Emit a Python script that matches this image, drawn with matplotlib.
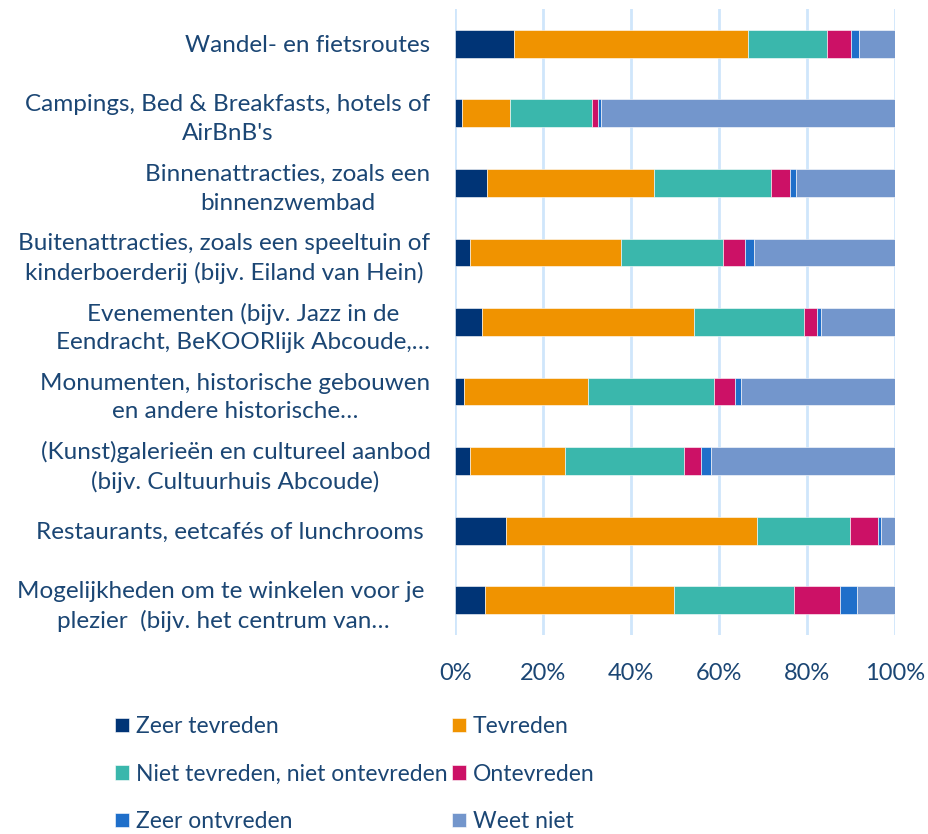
import matplotlib.pyplot as plt
import numpy as np
from matplotlib.ticker import PercentFormatter

categories = [
    "Wandel- en fietsroutes",
    "Campings, Bed & Breakfasts, hotels of\nAirBnB's",
    "Binnenattracties, zoals een\nbinnenzwembad",
    "Buitenattracties, zoals een speeltuin of\nkinderboerderij (bijv. Eiland van Hein)",
    "Evenementen (bijv. Jazz in de\nEendracht, BeKOORlijk Abcoude,…",
    "Monumenten, historische gebouwen\nen andere historische…",
    "(Kunst)galerieën en cultureel aanbod\n(bijv. Cultuurhuis Abcoude)",
    "Restaurants, eetcafés of lunchrooms ",
    "Mogelijkheden om te winkelen voor je \nplezier  (bijv. het centrum van…",
]

series_names = [
    "Zeer tevreden",
    "Tevreden",
    "Niet tevreden, niet ontevreden",
    "Ontevreden",
    "Zeer ontvreden",
    "Weet niet",
]

zeer_tevreden = [13.3, 1.4, 7.1, 3.4, 6.1, 1.9, 3.4, 11.5, 6.7]
tevreden = [53.3, 11.0, 38.0, 34.3, 48.2, 28.3, 21.6, 57.1, 43.1]
neutraal = [18.0, 18.6, 26.7, 23.1, 25.0, 28.7, 26.9, 21.1, 27.2]
ontevreden = [5.3, 1.4, 4.3, 5.1, 3.0, 4.6, 4.0, 6.5, 10.5]
zeer_ontevreden = [2.0, 0.7, 1.3, 2.0, 0.8, 1.4, 2.3, 0.7, 3.9]
weet_niet = [8.0, 66.9, 22.6, 32.1, 16.9, 35.1, 41.8, 3.1, 8.6]

colors = ["#003476", "#f09300", "#3ab7ac", "#cc1166", "#1f6fca", "#7396cc"]
text_color = "#1b4674"

plt.rcParams["font.family"] = ["Lato", "DejaVu Sans"]

fig = plt.figure(figsize=(9.29, 8.34), dpi=100)
ax = fig.add_axes([455.5 / 929, 1 - 635 / 834, (895 - 455.5) / 929, (635 - 9) / 834])

y = np.arange(len(categories))
left = np.zeros(len(categories))
handles = []
for name, vals, col in zip(series_names,
                           [zeer_tevreden, tevreden, neutraal, ontevreden, zeer_ontevreden, weet_niet],
                           colors):
    vals = np.array(vals)
    h = ax.barh(y, vals, left=left, height=0.4, color=col, label=name,
                edgecolor="white", linewidth=0.4, zorder=3)
    handles.append(h)
    left += vals

ax.set_ylim(len(categories) - 0.5, -0.5)
ax.set_xlim(0, 100)
ax.set_xticks(np.arange(0, 101, 20))
ax.xaxis.set_major_formatter(PercentFormatter(decimals=0))
ax.set_yticks(y)
ax.set_yticklabels(categories, ha="right", multialignment="center", linespacing=1.45)
ax.tick_params(axis="y", length=0, labelsize=17.5, colors=text_color, pad=18)
ax.tick_params(axis="x", length=0, labelsize=17, colors=text_color, pad=20)
ax.grid(axis="x", color="#cfe6fb", linewidth=2, zorder=0)
for s in ax.spines.values():
    s.set_visible(False)

# legend filled row by row, like the original
order = [0, 2, 4, 1, 3, 5]
fig.legend([handles[i] for i in order], [series_names[i] for i in order],
           loc="upper left", bbox_to_anchor=(106 / 929, 1 - 707 / 834), ncol=2,
           frameon=False, fontsize=16.5, labelcolor=text_color,
           handlelength=0.6, handleheight=0.6, handletextpad=0.3,
           columnspacing=0.2, labelspacing=1.15, borderaxespad=0)

fig.savefig("out.png", dpi=100)
